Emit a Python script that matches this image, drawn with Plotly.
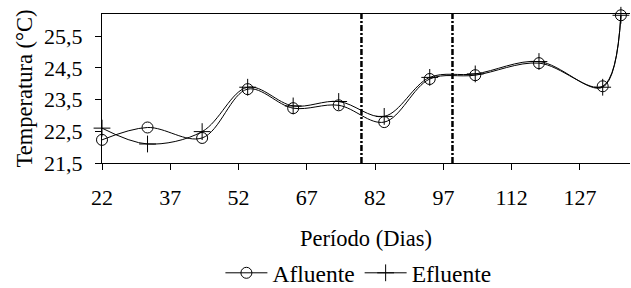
import plotly.graph_objects as go

# Data
days = [22, 32, 44, 54, 64, 74, 84, 94, 104, 118, 132, 136]
afluente = [22.23, 22.62, 22.29, 23.83, 23.23, 23.32, 22.79, 24.15, 24.27, 24.65, 23.92, 26.16]
efluente = [22.60, 22.10, 22.49, 23.89, 23.30, 23.44, 22.97, 24.20, 24.31, 24.70, 23.89, 26.16]
phase_boundaries = [79, 99]
x_ticks = [22, 37, 52, 67, 82, 97, 112, 127]
y_ticks = [21.5, 22.5, 23.5, 24.5, 25.5]
y_tick_labels = ["21,5", "22,5", "23,5", "24,5", "25,5"]

FONT = "Liberation Serif"

fig = go.Figure()
fig.add_trace(go.Scatter(
    x=days, y=afluente, name="Afluente", mode="lines+markers",
    line=dict(color="black", width=1, shape="spline", smoothing=1),
    marker=dict(symbol="circle-open", size=11, color="black", line=dict(width=1, color="black")),
    cliponaxis=False,
))
fig.add_trace(go.Scatter(
    x=days, y=efluente, name="Efluente", mode="lines+markers",
    line=dict(color="black", width=1, shape="spline", smoothing=1),
    marker=dict(symbol="cross-thin-open", size=12, color="black", line=dict(width=1, color="black")),
    cliponaxis=False,
))

for xb in phase_boundaries:
    fig.add_shape(type="line", x0=xb, x1=xb, xref="x", y0=0, y1=1, yref="paper",
                  line=dict(color="black", width=2.5, dash="6px,2px,2px,2px"))

fig.update_layout(
    width=631, height=288,
    margin=dict(l=102, r=1, t=14, b=125, autoexpand=False),
    paper_bgcolor="white", plot_bgcolor="white",
    font=dict(family=FONT, size=22, color="black"),
    showlegend=True,
    legend=dict(orientation="h", xref="container", x=0.568, xanchor="center",
                yref="container", y=0.052, yanchor="middle",
                font=dict(size=23.5), itemwidth=42, tracegroupgap=0,
                bgcolor="rgba(0,0,0,0)"),
)
fig.update_xaxes(
    range=[22, 138], tickvals=x_ticks, ticktext=[str(t) for t in x_ticks],
    showline=True, linecolor="black", linewidth=1, mirror=True,
    ticks="outside", ticklen=6, tickcolor="black", showgrid=False, zeroline=False,
    ticklabelstandoff=9,
    title=dict(text="Período (Dias)", standoff=27, font=dict(size=22.5)),
)
fig.update_yaxes(
    range=[21.5, 26.2], tickvals=y_ticks, ticktext=y_tick_labels,
    showline=True, linecolor="black", linewidth=1, mirror=False,
    ticks="outside", ticklen=6, tickcolor="black", showgrid=False, zeroline=False,
    ticklabelstandoff=8,
    title=dict(text="Temperatura (°C)", standoff=5, font=dict(size=22.5)),
)

fig.write_html("out.html", config={"displayModeBar": False},
               post_script="document.body.style.margin='0';document.body.style.overflow='hidden';")
